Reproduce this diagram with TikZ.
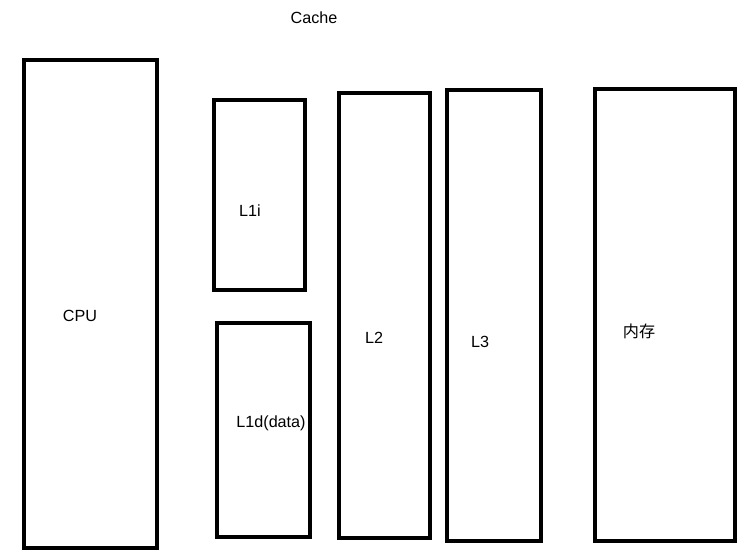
\documentclass[tikz,border=0pt]{standalone}
\usepackage{fontspec}
\setmainfont{Liberation Sans}
\newfontfamily\cjkfont{Noto Sans CJK SC}
\begin{document}
\begin{tikzpicture}[x=0.02cm,y=-0.02cm]
      \tikzstyle{box}=[draw,line width=0.08cm]
      \tikzstyle{every node}=[inner sep=0pt,font=\fontsize{9.2pt}{11pt}\selectfont]
      \useasboundingbox (0,0) rectangle (743,553);

      % boxes
      \draw[box] (24,60) rectangle (157,548);
      \draw[box] (214,100) rectangle (305,290);
      \draw[box] (217,323) rectangle (310,537);
      \draw[box] (339,93) rectangle (430,538);
      \draw[box] (447,90) rectangle (541,541);
      \draw[box] (595,89) rectangle (735,541);

      % labels
      \node (cache) at (314,18) {Cache};
      \node (cpu) at (80,316) {CPU};
      \node (l1i) at (250,211) {L1i};
      \node (l1d) at (271,423) {L1d(data)};
      \node (l2) at (374,338) {L2};
      \node (l3) at (480,342) {L3};
      \node (mem) at (639,331) {\cjkfont 内存};
\end{tikzpicture}
\end{document}
